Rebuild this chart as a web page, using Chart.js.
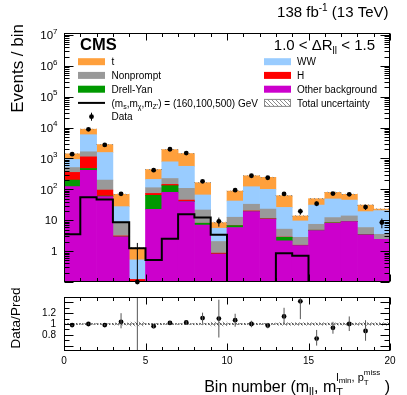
<!DOCTYPE html>
<html><head><meta charset="utf-8">
<script src="https://cdn.jsdelivr.net/npm/chart.js@4.4.1/dist/chart.umd.min.js"></script>
<style>
html,body{margin:0;padding:0;background:#fff;}
#wrap{position:relative;width:407px;height:395px;overflow:hidden;background:#fff;}
canvas{position:absolute;left:0;}
#main{top:0;}
#ratio{top:283px;}
</style></head><body>
<div id="wrap"><canvas id="main" width="407" height="286"></canvas><canvas id="ratio" width="407" height="112"></canvas></div>
<script>
const FONT = "'Liberation Sans', Arial, Helvetica, sans-serif";

// ---- data ----
const binCenters = [0.5,1.5,2.5,3.5,4.5,5.5,6.5,7.5,8.5,9.5,10.5,11.5,12.5,13.5,14.5,15.5,16.5,17.5,18.5,19.5];
const binEdges   = [0,1,2,3,4,5,6,7,8,9,10,11,12,13,14,15,16,17,18,19,20];

const otherBkg  = [122, 410, 58, 2.9, 0.07, 22.6, 80, 40, 7, 0.8, 5.8, 19, 11, 2.15, 1.5, 4.65, 8, 9.1, 3.4, 2.4];
const drellYan  = [78, 65, 3, 0, 0, 41.4, 52, 1, 1, 0, 0.9, 0, 0, 0.65, 0, 0.1, 0.2, 0, 0, 0];
const higgs     = [155, 655, 34, 0.2, 0.05, 10, 13, 4, 0, 0.06, 0, 1, 0.3, 0.05, 0.05, 0, 0, 0.1, 0, 0];
const nonprompt = [155, 520, 105, 5.5, 0, 39, 80, 63, 13.5, 1.19, 5.8, 13, 11.7, 2.3, 1.25, 2.65, 4, 4.6, 2.4, 1.1];
const wwBkg     = [420, 4250, 1360, 19, 0.40, 97, 555, 452, 44.5, 3.45, 29.5, 89, 77, 20.9, 6.7, 23.6, 36.8, 31.2, 13.2, 17];
const topBkg    = [490, 3000, 1270, 41.4, 0.73, 230, 1170, 890, 99, 2.9, 46, 154, 145, 36.6, 4.3, 19, 31, 24, 12, 2.5];
const signal    = [3.5, 56, 47, 8.6, 1.25, 0.52, 2.5, 15.6, 12.2, 3.4, 0, 0, 0, 0.86, 0.71, 0, 0, 0, 0, 0];

const dataVals  = [1380, 8800, 2750, 72, 0, 420, 1990, 1500, 182, 9.2, 94, 276, 238, 71, 19.5, 34.5, 73, 69, 26.8, 8.4];
const dataErrLo = [37, 94, 52, 8.5, 0, 20, 45, 39, 13.5, 3, 9.7, 16.6, 15.4, 8.4, 4.4, 5.9, 8.5, 8.3, 5.2, 2.9];
const dataErrHi = [37, 94, 52, 8.5, 1.84, 20, 45, 39, 13.5, 3, 9.7, 16.6, 15.4, 8.4, 4.4, 5.9, 8.5, 8.3, 5.2, 2.9];
const uncRel    = [0.008, 0.006, 0.008, 0.02, 0.035, 0.012, 0.008, 0.008, 0.015, 0.035, 0.012, 0.012, 0.012, 0.025, 0.025, 0.025, 0.02, 0.02, 0.025, 0.025];

const ratioVals = [0.98, 1.0, 0.98, 1.04, 0, 0.96, 1.02, 1.03, 1.11, 1.10, 1.07, 1.0, 0.97, 1.14, 1.42, 0.73, 0.93, 1.0, 0.87, 0.4];
const ratioLo   = [0.96, 0.99, 0.96, 0.92, 0, 0.92, 0.99, 1.0, 1.02, 0.75, 0.95, 0.94, 0.92, 1.01, 1.09, 0.6, 0.82, 0.87, 0.69, 0.3];
const ratioHi   = [1.0, 1.01, 1.0, 1.2, 1.6, 1.0, 1.05, 1.06, 1.21, 1.45, 1.19, 1.06, 1.02, 1.3, 1.75, 0.89, 1.04, 1.14, 1.07, 0.49];

const yDecades      = [1, 10, 100, 1000, 10000, 100000, 1000000, 10000000];
const yDecadeLabels = [['1',''],['10',''],['10','2'],['10','3'],['10','4'],['10','5'],['10','6'],['10','7']];
const ratioTickValues = [0.8, 1, 1.2];
const xTickValues = [0, 5, 10, 15, 20];

const yMin = 0.1, yMax = 1.16e7, stackBase = 1e-3;

// ---- styles ----
const COL = {t:'#ffa03c', ww:'#99ccff', np:'#999999', h:'#ff0000', dy:'#009900', oth:'#cc00cc'};

function hatch(color){
  const c = document.createElement('canvas'); c.width = 4; c.height = 4;
  const g = c.getContext('2d'); g.strokeStyle = color; g.lineWidth = 1;
  g.beginPath(); g.moveTo(-1,-1); g.lineTo(5,5); g.moveTo(-1,3); g.lineTo(1,5); g.moveTo(3,-1); g.lineTo(5,1); g.stroke();
  return g.createPattern(c, 'repeat');
}
const hatchMain = hatch('#8a8a8a');
const hatchRatio = hatch('#8a8a8a');

// ---- rich text helper ----
function measureSeq(ctx, seq){
  let w = 0;
  for (const p of seq){
    if (p.stack){ w += Math.max(...p.stack.map(s => measureSeq(ctx, s))); }
    else { ctx.font = (p.bold?'bold ':'') + p.s + 'px ' + FONT; w += ctx.measureText(p.t).width; }
  }
  return w;
}
function drawSeq(ctx, seq, x, y){
  for (const p of seq){
    if (p.stack){
      let mw = 0;
      for (const s of p.stack){ drawSeq(ctx, s, x, y); mw = Math.max(mw, measureSeq(ctx, s)); }
      x += mw;
    } else {
      ctx.font = (p.bold?'bold ':'') + p.s + 'px ' + FONT;
      ctx.fillText(p.t, x, y + (p.dy||0));
      x += ctx.measureText(p.t).width;
    }
  }
  return x;
}
function drawSeqRight(ctx, seq, right, y){ drawSeq(ctx, seq, right - measureSeq(ctx, seq), y); }

// ---- main panel datasets ----
const components = [
  {label:'Other background', vals: otherBkg, color: COL.oth},
  {label:'Drell-Yan', vals: drellYan, color: COL.dy},
  {label:'H', vals: higgs, color: COL.h},
  {label:'Nonprompt', vals: nonprompt, color: COL.np},
  {label:'WW', vals: wwBkg, color: COL.ww},
  {label:'t', vals: topBkg, color: COL.t}
];
const cum = binCenters.map(() => stackBase);
const barSets = components.map(c => {
  const d = binCenters.map((x, i) => { const lo = cum[i]; const hi = lo + c.vals[i]; cum[i] = hi; return {x, y:[lo, hi]}; });
  return {type:'bar', label:c.label, data:d, backgroundColor:c.color, borderWidth:0, grouped:false,
          barPercentage:1, categoryPercentage:1, order:10};
});
const totals = cum.map(v => v - stackBase);

const uncSet = {type:'bar', label:'Total uncertainty', grouped:false, barPercentage:1, categoryPercentage:1, borderWidth:0,
  data: binCenters.map((x,i) => ({x, y:[totals[i]*(1-uncRel[i]), totals[i]*(1+uncRel[i])]})),
  backgroundColor: hatchMain, order:6};

const sigSet = {type:'line', label:'signal', stepped:'before', borderColor:'#000', borderWidth:2, pointRadius:0, fill:false,
  data: binEdges.map((e,i) => { const v = signal[Math.min(i, signal.length-1)]; return {x:e, y: v > 0 ? v : yMin}; }), order:3};

const dataSet = {type:'line', label:'Data', showLine:false, pointRadius:2.4, pointBackgroundColor:'#000', pointBorderWidth:0, clip:false,
  data: binCenters.map((x,i) => ({x, y: dataVals[i] > 0 ? dataVals[i] : yMin})), order:1};

function inwardTicksX(ctx, a, xs, edge, dir){
  for (let v = 0; v <= 20; v++){
    const px = Math.round(xs.getPixelForValue(v)) + 0.5;
    const len = (v % 5 === 0) ? 7 : 3.5;
    ctx.beginPath(); ctx.moveTo(px, edge); ctx.lineTo(px, edge + dir*len); ctx.stroke();
  }
}

const mainDecor = {
  id:'mainDecor',
  afterDatasetsDraw(chart){
    const {ctx, chartArea:a, scales:{x, y}} = chart;
    ctx.save();
    ctx.beginPath(); ctx.rect(a.left, a.top, a.right-a.left, a.bottom-a.top+2); ctx.clip();
    ctx.strokeStyle = '#000'; ctx.lineWidth = 1;
    binCenters.forEach((c,i) => {
      const px = x.getPixelForValue(c);
      const lo = dataVals[i] - dataErrLo[i], hi = dataVals[i] + dataErrHi[i];
      if (hi <= 0) return;
      ctx.beginPath(); ctx.moveTo(px, y.getPixelForValue(lo > 0 ? lo : yMin)); ctx.lineTo(px, y.getPixelForValue(hi)); ctx.stroke();
    });
    ctx.restore();
  },
  afterDraw(chart){
    const {ctx, chartArea:a, scales:{x, y}} = chart;
    ctx.save();
    ctx.strokeStyle = '#000'; ctx.lineWidth = 1;
    const L = Math.round(a.left)+0.5, R = Math.round(a.right)-0.5, T = Math.round(a.top)+0.5, B = Math.round(a.bottom)-0.5;
    ctx.strokeRect(L, T, R-L, B-T);
    // y ticks (log, inward, both sides)
    for (let k = -1; k <= 7; k++){
      for (let m = 1; m <= 9; m++){
        const v = m * Math.pow(10, k);
        if (v < yMin || v > yMax) continue;
        const py = Math.round(y.getPixelForValue(v)) + 0.5;
        const len = m === 1 ? 9 : 5;
        ctx.beginPath(); ctx.moveTo(L, py); ctx.lineTo(L+len, py); ctx.moveTo(R, py); ctx.lineTo(R-len, py); ctx.stroke();
      }
    }
    inwardTicksX(ctx, a, x, B, -1);
    inwardTicksX(ctx, a, x, T, 1);
    // y labels
    ctx.fillStyle = '#000'; ctx.textBaseline = 'alphabetic'; ctx.textAlign = 'left';
    yDecades.forEach((v, i) => {
      const py = y.getPixelForValue(v);
      const [base, sup] = yDecadeLabels[i];
      const seq = sup ? [{t:base, s:11.5, dy:0}, {t:sup, s:8, dy:-5.5}] : [{t:base, s:11.5}];
      drawSeqRight(ctx, seq, 57.5, py + 4.2);
    });
    // y title
    ctx.save(); ctx.translate(23, 24); ctx.rotate(-Math.PI/2);
    ctx.font = '17px ' + FONT; ctx.textAlign = 'right'; ctx.fillText('Events / bin', 0, 0);
    ctx.restore();
    // header texts
    ctx.textAlign = 'left';
    drawSeqRight(ctx, [{t:'138 fb', s:15}, {t:'-1', s:10, dy:-6}, {t:' (13 TeV)', s:15}], 388.5, 16.5);
    ctx.font = 'bold 16.5px ' + FONT; ctx.fillText('CMS', 80, 50);
    drawSeqRight(ctx, [{t:'1.0 < \u0394R', s:15}, {t:'ll', s:10, dy:3.5}, {t:' < 1.5', s:15}], 375, 50);
    // legend
    const rows = [61.7, 75.4, 89.2, 102.9, 116.7];
    const lx = 78, lw = 27, ltx = 111.5, rx = 264, rtx = 297;
    const box = (bx, cy, fill) => { ctx.fillStyle = fill; ctx.fillRect(bx, cy-3.5, lw, 7); };
    const txt = (tx, cy, seq) => { ctx.fillStyle = '#000'; drawSeq(ctx, seq, tx, cy + 3.6); };
    box(lx, rows[0], COL.t);   txt(ltx, rows[0], [{t:'t', s:10}]);
    box(lx, rows[1], COL.np);  txt(ltx, rows[1], [{t:'Nonprompt', s:10}]);
    box(lx, rows[2], COL.dy);  txt(ltx, rows[2], [{t:'Drell-Yan', s:10}]);
    ctx.strokeStyle = '#000'; ctx.lineWidth = 2; ctx.beginPath(); ctx.moveTo(lx, rows[3]); ctx.lineTo(lx+lw, rows[3]); ctx.stroke();
    txt(ltx, rows[3], [{t:'(m', s:10}, {t:'s', s:7, dy:2.5}, {t:',m', s:10}, {t:'\u03c7', s:7, dy:2.5}, {t:',m', s:10}, {t:"Z'", s:7, dy:2.5}, {t:') = (160,100,500) GeV', s:10}]);
    ctx.lineWidth = 1; ctx.beginPath(); ctx.moveTo(lx+lw/2, rows[4]-4); ctx.lineTo(lx+lw/2, rows[4]+4); ctx.stroke();
    ctx.fillStyle = '#000'; ctx.beginPath(); ctx.arc(lx+lw/2, rows[4], 2.4, 0, 2*Math.PI); ctx.fill();
    txt(ltx, rows[4], [{t:'Data', s:10}]);
    box(rx, rows[0], COL.ww);  txt(rtx, rows[0], [{t:'WW', s:10}]);
    box(rx, rows[1], COL.h);   txt(rtx, rows[1], [{t:'H', s:10}]);
    box(rx, rows[2], COL.oth); txt(rtx, rows[2], [{t:'Other background', s:10}]);
    ctx.fillStyle = hatchMain; ctx.fillRect(rx, rows[3]-3.5, lw, 7);
    ctx.strokeStyle = '#8a8a8a'; ctx.lineWidth = 1; ctx.strokeRect(rx+0.5, rows[3]-3.5, lw-1, 7);
    txt(rtx, rows[3], [{t:'Total uncertainty', s:10}]);
    ctx.restore();
  }
};

new Chart(document.getElementById('main'), {
  type:'bar',
  data:{datasets:[...barSets, uncSet, sigSet, dataSet]},
  options:{
    responsive:false, animation:false, devicePixelRatio:1,
    layout:{padding:{left:0, right:17, top:33, bottom:0}},
    plugins:{legend:{display:false}, tooltip:{enabled:false}},
    scales:{
      x:{type:'linear', min:0, max:20, offset:false, grid:{display:false, drawTicks:false}, border:{display:false}, ticks:{display:false},
         afterFit:(s) => { s.height = 3; }},
      y:{type:'logarithmic', min:yMin, max:yMax, grid:{display:false, drawTicks:false}, border:{display:false}, ticks:{display:false},
         afterFit:(s) => { s.width = 64; }}
    }
  },
  plugins:[mainDecor]
});

// ---- ratio panel ----
const ratioDecor = {
  id:'ratioDecor',
  afterDatasetsDraw(chart){
    const {ctx, chartArea:a, scales:{x, y}} = chart;
    ctx.save();
    ctx.beginPath(); ctx.rect(a.left, a.top, a.right-a.left, a.bottom-a.top); ctx.clip();
    ctx.strokeStyle = '#555'; ctx.lineWidth = 1;
    binCenters.forEach((c,i) => {
      const px = x.getPixelForValue(c);
      ctx.beginPath(); ctx.moveTo(px, y.getPixelForValue(ratioLo[i])); ctx.lineTo(px, y.getPixelForValue(ratioHi[i])); ctx.stroke();
    });
    ctx.restore();
  },
  afterDraw(chart){
    const {ctx, chartArea:a, scales:{x, y}} = chart;
    ctx.save();
    ctx.strokeStyle = '#000'; ctx.lineWidth = 1;
    const L = Math.round(a.left)+0.5, R = Math.round(a.right)-0.5, T = Math.round(a.top)+0.5, B = Math.round(a.bottom)-0.5;
    ctx.strokeRect(L, T, R-L, B-T);
    for (let k = 6; k <= 14; k++){
      const v = k/10;
      const py = Math.round(y.getPixelForValue(v)) + 0.5;
      const len = (k % 2 === 0) ? 9 : 5;
      ctx.beginPath(); ctx.moveTo(L, py); ctx.lineTo(L+len, py); ctx.moveTo(R, py); ctx.lineTo(R-len, py); ctx.stroke();
    }
    inwardTicksX(ctx, a, x, B, -1);
    inwardTicksX(ctx, a, x, T, 1);
    ctx.fillStyle = '#000';
    // y title
    ctx.save(); ctx.translate(20, 35); ctx.rotate(-Math.PI/2);
    ctx.font = '13.5px ' + FONT; ctx.textAlign = 'center'; ctx.fillText('Data/Pred', 0, 0);
    ctx.restore();
    // x title
    ctx.textAlign = 'left';
    const supGroup = [{t:'l', s:11, dy:-11}, {t:'min', s:8, dy:-9}, {t:', p', s:11, dy:-11},
                      {stack:[[{t:'T', s:8, dy:-7}], [{t:'miss', s:8, dy:-17}]]}];
    drawSeqRight(ctx, [{t:'Bin number (m', s:16}, {t:'ll', s:11, dy:3.5}, {t:', m', s:16},
                       {stack:[[{t:'T', s:11, dy:4}], supGroup]}, {t:' )', s:16}], 390, 108.5);
    ctx.restore();
  }
};

new Chart(document.getElementById('ratio'), {
  type:'bar',
  data:{datasets:[
    {type:'bar', label:'unc', grouped:false, barPercentage:1, categoryPercentage:1, borderWidth:0, backgroundColor:hatchRatio,
     data: binCenters.map((c,i) => ({x:c, y:[1-uncRel[i], 1+uncRel[i]]})), order:5},
    {type:'line', label:'one', data:[{x:binEdges[0], y:1}, {x:binEdges[binEdges.length-1], y:1}], borderColor:'#000', borderWidth:1,
     borderDash:[1.5,1.5], pointRadius:0, order:3},
    {type:'line', label:'ratio', showLine:false, pointRadius:2.4, pointBackgroundColor:'#000', pointBorderWidth:0,
     data: binCenters.map((c,i) => ({x:c, y:ratioVals[i]})), order:1}
  ]},
  options:{
    responsive:false, animation:false, devicePixelRatio:1,
    layout:{padding:{left:0, right:17, top:3, bottom:0}},
    plugins:{legend:{display:false}, tooltip:{enabled:false}},
    scales:{
      x:{type:'linear', min:0, max:20, offset:false, grid:{display:false, drawTicks:false}, border:{display:false},
         ticks:{display:true, color:'#000', font:{family:FONT, size:10}, padding:4, maxRotation:0, autoSkip:false, callback:(v) => String(v)},
         afterBuildTicks:(s) => { s.ticks = xTickValues.map(v => ({value:v})); },
         afterFit:(s) => { s.height = 44; }},
      y:{type:'linear', min:0.5, max:1.5, grid:{display:false, drawTicks:false}, border:{display:false},
         ticks:{display:true, color:'#000', font:{family:FONT, size:10}, padding:8, autoSkip:false, callback:(v) => String(v)},
         afterBuildTicks:(s) => { s.ticks = ratioTickValues.map(v => ({value:v})); },
         afterFit:(s) => { s.width = 64; }}
    }
  },
  plugins:[ratioDecor]
});
</script></body></html>
